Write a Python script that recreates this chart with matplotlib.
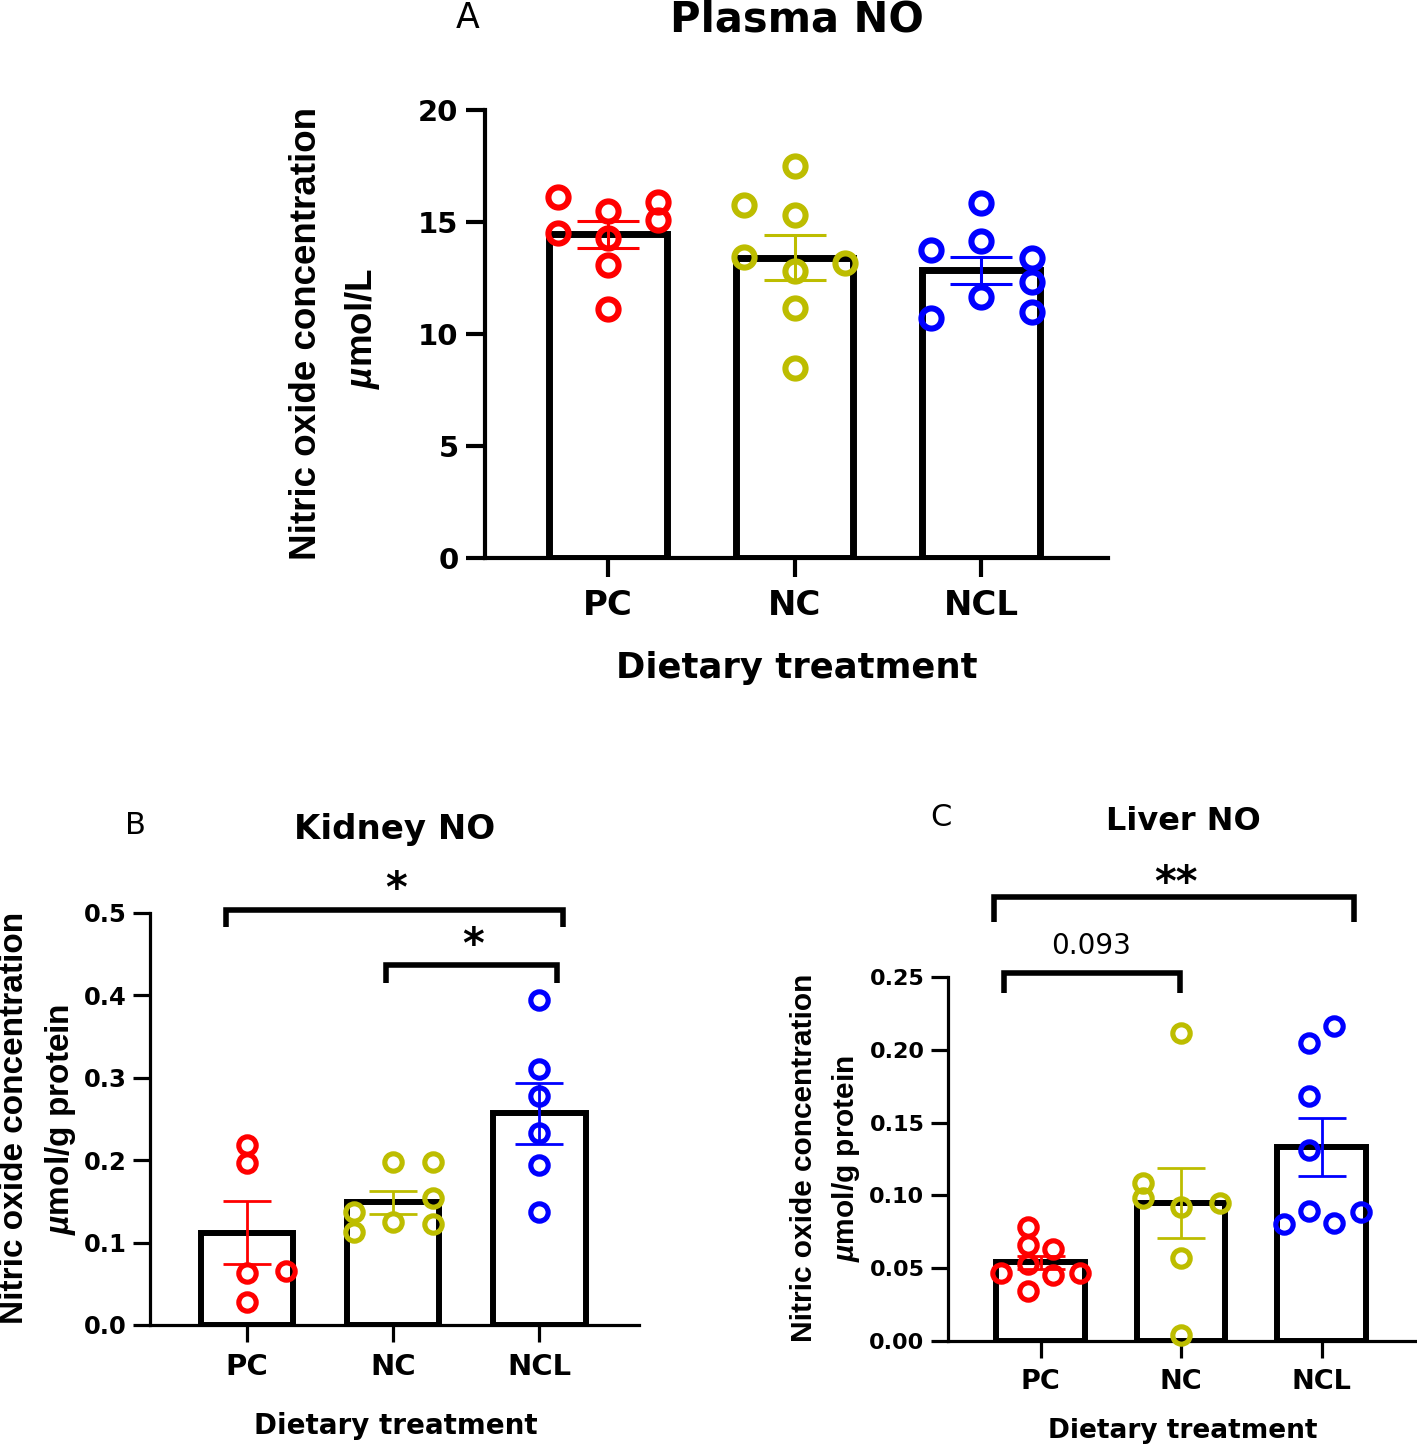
import matplotlib
matplotlib.use("Agg")
import matplotlib.pyplot as plt
from matplotlib.ticker import FormatStrFormatter

plt.rcParams['font.family'] = ['DejaVu Sans']
plt.rcParams['mathtext.fontset'] = 'custom'
plt.rcParams['mathtext.it'] = 'Liberation Sans:italic:bold'
plt.rcParams['mathtext.rm'] = 'Liberation Sans:bold'
LAB = ['Liberation Sans', 'DejaVu Sans']

# ---------------- data ----------------
groups = ["PC", "NC", "NCL"]
colors = ["#FF0000", "#BDBD00", "#0000FF"]

# Panel A: Plasma NO (umol/L)
plasma_pc = [16.1, 14.5, 15.5, 14.3, 13.1, 11.1, 15.9, 15.1]
plasma_nc = [17.5, 15.75, 15.3, 13.45, 12.8, 13.15, 11.15, 8.5]
plasma_ncl = [15.85, 13.75, 14.15, 13.4, 12.3, 11.65, 11.0, 10.7]
plasma_mean = [14.45, 13.4, 12.85]
plasma_sem = [0.6, 1.0, 0.6]

# Panel B: Kidney NO (umol/g protein)
kidney_pc = [0.218, 0.196, 0.063, 0.065, 0.028]
kidney_nc = [0.198, 0.198, 0.154, 0.137, 0.113, 0.125, 0.123]
kidney_ncl = [0.395, 0.311, 0.278, 0.233, 0.194, 0.137]
kidney_mean = [0.112, 0.149, 0.257]
kidney_sem = [0.038, 0.014, 0.037]

# Panel C: Liver NO (umol/g protein)
liver_pc = [0.0785, 0.0659, 0.0630, 0.0529, 0.0465, 0.0453, 0.0465, 0.0343]
liver_nc = [0.2113, 0.1087, 0.0980, 0.0922, 0.0950, 0.0572, 0.0041]
liver_ncl = [0.2163, 0.2049, 0.1685, 0.1312, 0.0804, 0.0893, 0.0813, 0.0888]
liver_mean = [0.0540, 0.095, 0.133]
liver_sem = [0.0045, 0.024, 0.020]

# horizontal scatter offsets of the dots (category units)
plasma_off = [[-0.27, -0.27, 0, 0, 0, 0, 0.27, 0.27],
              [0, -0.27, 0, -0.27, 0, 0.27, 0, 0],
              [0, -0.27, 0, 0.27, 0.27, 0, 0.27, -0.27]]
kidney_off = [[0, 0, 0, 0.27, 0],
              [0, 0.275, 0.275, -0.27, -0.27, 0, 0.275],
              [0, 0, 0, 0, 0, 0]]
liver_off = [[-0.09, -0.09, 0.09, -0.09, -0.28, 0.09, 0.28, -0.09],
             [0, -0.27, -0.27, 0, 0.28, 0, 0],
             [0.09, -0.09, -0.09, -0.09, -0.27, -0.09, 0.09, 0.28]]

# ---------------- figure ----------------
W, H = 1417, 1448
fig = plt.figure(figsize=(W / 100, H / 100), dpi=100)


def axes_px(left, right, top, bottom):
    return fig.add_axes([left / W, (H - bottom) / H, (right - left) / W, (bottom - top) / H])


def ftext(x, y, s, **kw):
    return fig.text(x / W, (H - y) / H, s, ha='center', va='center', **kw)


def panel(ax, data, offs, mean, sem, ylim, yticks, fmt, spine_lw, bar_lw, ms, mew,
          capsize, ytick_fs, xtick_fs, ticklen, elw, xpad):
    xs = range(len(groups))
    ax.bar(xs, mean, width=0.63, color='white', edgecolor='none', zorder=1)
    ax.bar(xs, mean, width=0.63, fill=False, edgecolor='black', linewidth=bar_lw, zorder=3)
    for i, (vals, off) in enumerate(zip(data, offs)):
        ax.plot([i + o for o in off], vals, 'o', ms=ms, mfc='none', mec=colors[i],
                mew=mew, zorder=4, clip_on=False)
        ax.errorbar([i], [mean[i]], yerr=[sem[i]], fmt='none', ecolor=colors[i],
                    elinewidth=elw, capsize=capsize, capthick=elw, zorder=5)
    ax.set_xlim(-0.66, 2.68)
    ax.set_ylim(*ylim)
    ax.set_yticks(yticks)
    ax.yaxis.set_major_formatter(FormatStrFormatter(fmt))
    ax.set_xticks(list(xs))
    ax.set_xticklabels(groups)
    for s in ['top', 'right']:
        ax.spines[s].set_visible(False)
    for s in ['left', 'bottom']:
        ax.spines[s].set_linewidth(spine_lw)
    ax.tick_params(axis='both', width=spine_lw, length=ticklen)
    ax.tick_params(axis='y', labelsize=ytick_fs, pad=5)
    ax.tick_params(axis='x', labelsize=xtick_fs, pad=xpad)
    for lab in ax.get_xticklabels() + ax.get_yticklabels():
        lab.set_fontweight('bold')
    ax.patch.set_visible(False)


def bracket(ax, x0, x1, ytop, ybot, lw):
    ax.plot([x0, x0, x1, x1], [ybot, ytop, ytop, ybot], color='black', lw=lw,
            clip_on=False, solid_capstyle='butt', solid_joinstyle='miter')


# ---- Panel A ----
axA = axes_px(485, 1108, 110, 558)
panel(axA, [plasma_pc, plasma_nc, plasma_ncl], plasma_off, plasma_mean, plasma_sem,
      (0, 20), [0, 5, 10, 15, 20], '%d', 3.0, 5.0, 14.5, 4.4, 22, 21, 24.5, 14, 2.2, 8)
ftext(468, 18, "A", fontsize=25)
ftext(797, 19, "Plasma NO", fontsize=30, fontweight='bold')
ftext(306, 334, "Nitric oxide concentration", fontsize=26.5, fontweight='bold',
      rotation=90, family=LAB)
ftext(362, 329, r"$\mathit{µ}$mol/L", fontsize=26.5, fontweight='bold', rotation=90,
      family=LAB)
ftext(797, 668, "Dietary treatment", fontsize=25.5, fontweight='bold')

# ---- Panel B ----
axB = axes_px(150, 639, 913, 1325)
panel(axB, [kidney_pc, kidney_nc, kidney_ncl], kidney_off, kidney_mean, kidney_sem,
      (0, 0.5), [0, 0.1, 0.2, 0.3, 0.4, 0.5], '%.1f', 2.3, 4.3, 12.5, 3.7, 17,
      17.5, 21, 12, 2.0, 8)
bracket(axB, -0.14, 2.16, 0.504, 0.483, 4)
bracket(axB, 0.95, 2.12, 0.437, 0.415, 4)
ftext(135, 826, "B", fontsize=22)
ftext(395, 830, "Kidney NO", fontsize=24.5, fontweight='bold')
ftext(396, 890, "*", fontsize=30, fontweight='bold')
ftext(473, 946, "*", fontsize=30, fontweight='bold')
ftext(15, 1118, "Nitric oxide concentration", fontsize=24, fontweight='bold',
      rotation=90, family=LAB)
ftext(61, 1119, r"$\mathit{µ}$mol/g protein", fontsize=24, fontweight='bold',
      rotation=90, family=LAB)
ftext(396, 1426, "Dietary treatment", fontsize=20, fontweight='bold')

# ---- Panel C ----
axC = axes_px(948, 1417, 977, 1341)
panel(axC, [liver_pc, liver_nc, liver_ncl], liver_off, liver_mean, liver_sem,
      (0, 0.25), [0, 0.05, 0.10, 0.15, 0.20, 0.25], '%.2f', 2.3, 4.3, 12.5, 3.7, 17,
      16, 19.5, 12, 2.0, 8)
bracket(axC, -0.33, 2.23, 0.305, 0.288, 4)
bracket(axC, -0.26, 0.99, 0.2527, 0.239, 4)
ftext(941, 818, "C", fontsize=22)
ftext(1183, 822, "Liver NO", fontsize=23, fontweight='bold')
ftext(1176, 884, "**", fontsize=30, fontweight='bold')
ftext(1091, 946, "0.093", fontsize=20)
ftext(804, 1158, r"Nitric oxide concentration", fontsize=21.5, fontweight='bold',
      rotation=90, family=LAB)
ftext(846, 1158, r"$\mathit{µ}$mol/g protein", fontsize=21.5, fontweight='bold',
      rotation=90, family=LAB)
ftext(1183, 1431, "Dietary treatment", fontsize=19, fontweight='bold')

fig.savefig("out.png", dpi=100)
